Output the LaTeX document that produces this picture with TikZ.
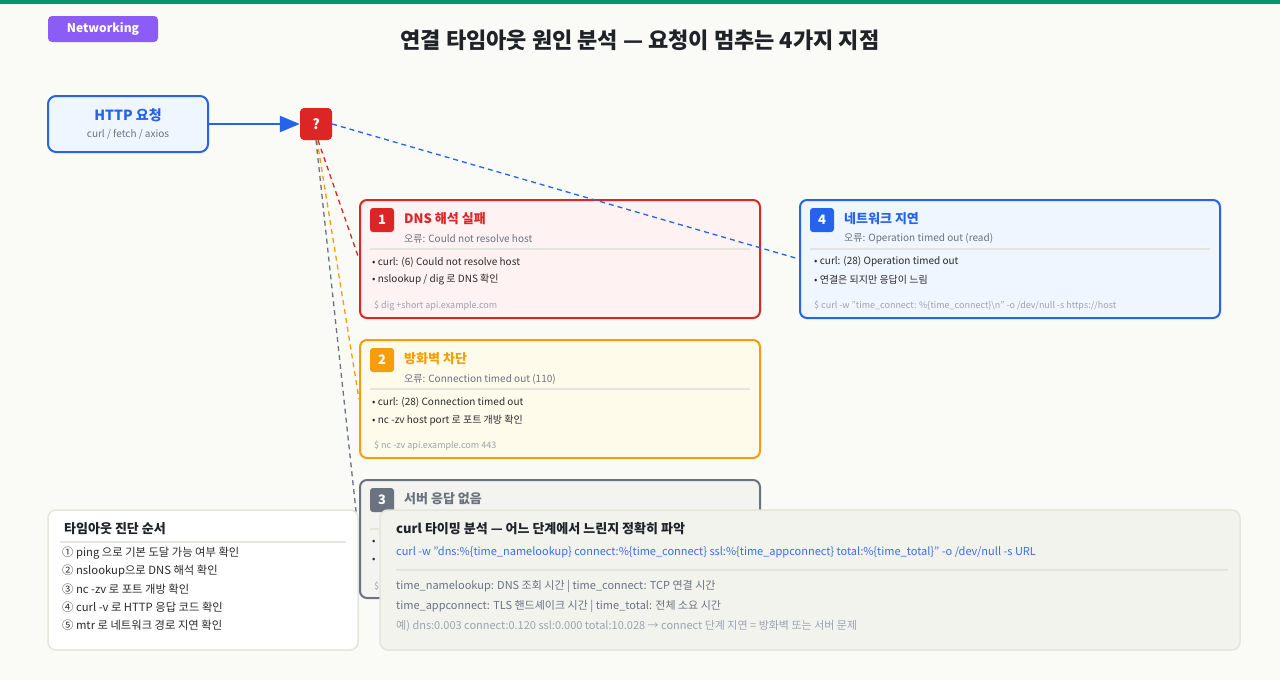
\documentclass[tikz,border=0pt]{standalone}
\usepackage{fontspec}
\setmainfont{Noto Sans CJK KR}
\usetikzlibrary{arrows.meta}
\definecolor{bgc}{HTML}{FAFAF7}
\definecolor{topgreen}{HTML}{079669}
\definecolor{purp}{HTML}{8B5CF6}
\definecolor{cblue}{HTML}{2563EB}
\definecolor{cbluefill}{HTML}{EFF6FF}
\definecolor{cred}{HTML}{DC2626}
\definecolor{credfill}{HTML}{FEF2F2}
\definecolor{corange}{HTML}{F59E0B}
\definecolor{corangefill}{HTML}{FFFBEB}
\definecolor{cgrey}{HTML}{6B7280}
\definecolor{cgreyfill}{HTML}{F3F4EF}
\definecolor{panelfill}{HTML}{F3F3EE}
\definecolor{panelline}{HTML}{E5E5DC}
\definecolor{sepc}{HTML}{E5E5E0}
\definecolor{darktxt}{HTML}{1F2328}
\definecolor{bodytxt}{HTML}{2B2B2B}
\definecolor{subtxt}{HTML}{6B7280}
\definecolor{codetxt}{HTML}{9CA3AF}
\definecolor{codeblue}{HTML}{3A6EE8}
\newcommand\fsz[1]{\fontsize{#1}{#1}\selectfont}
\pgfdeclarelayer{bottom}
\pgfsetlayers{bottom,main}
\tikzset{
  txt/.style={inner sep=0pt, anchor=west},
  card/.style={rounded corners=7pt, line width=2pt, minimum width=400pt, minimum height=118pt, inner sep=0pt},
  numbadge/.style={rounded corners=3pt, minimum width=24pt, minimum height=24pt, inner sep=0pt, text=white, font=\fsz{13}\bfseries},
  cardtitle/.style={txt, font=\fsz{13}\bfseries},
  cardsub/.style={txt, font=\fsz{10}, text=subtxt},
  bullet/.style={txt, font=\fsz{10}, text=bodytxt},
  codeline/.style={txt, font=\fsz{9}, text=codetxt},
  sepline/.style={draw=sepc, line width=1.5pt},
  conn/.style={line width=1.3pt, dash pattern=on 5pt off 4pt},
  lpitem/.style={txt, font=\fsz{11.3}, text=bodytxt},
}
\begin{document}
\begin{tikzpicture}[x=1pt,y=-1pt]
\begin{pgfonlayer}{bottom}
\fill[bgc] (0,0) rectangle (1280,680);
\fill[topgreen] (0,0) rectangle (1280,4);
\end{pgfonlayer}
\useasboundingbox (0,0) rectangle (1280,680);

% badge and title
\node[fill=purp, rounded corners=4pt, minimum width=110pt, minimum height=26pt, inner sep=0pt, text=white, font=\fsz{12}\bfseries] (net) at (103,29) {Networking};
\node[inner sep=0pt, text=darktxt, font=\fsz{22}\bfseries] (title) at (640,40) {연결 타임아웃 원인 분석 — 요청이 멈추는 4가지 지점};

% HTTP request
\node[draw=cblue, fill=cbluefill, line width=2pt, rounded corners=8pt, minimum width=160pt, minimum height=56pt, inner sep=0pt] (http) at (128,124) {};
\node[inner sep=0pt, text=cblue, font=\fsz{14}\bfseries] (httpt) at (128,115) {HTTP 요청};
\node[inner sep=0pt, text=subtxt, font=\fsz{10}] (https) at (128,134) {curl / fetch / axios};

% question box
\node[fill=cred, rounded corners=4pt, minimum width=32pt, minimum height=32pt, inner sep=0pt, text=white, font=\fsz{14}\bfseries] (q) at (316,124) {?};

\draw[cblue, line width=2.5pt, -{Triangle[length=20pt,width=16pt]}] (http.east) -- (q.west);

% cards
\node[card, draw=cred, fill=credfill] (c1) at (560,259) {};
\node[card, draw=corange, fill=corangefill] (c2) at (560,399) {};
\node[card, draw=cgrey, fill=cgreyfill] (c3) at (560,539) {};
\node[card, draw=cblue, fill=cbluefill, minimum width=420pt] (c4) at (1010,259) {};

% connectors
\draw[conn, cblue] (q.east) -- (c4.west);
\draw[conn, cred] ([xshift=2pt]q.south) -- (c1.west);
\draw[conn, corange] ([xshift=1pt]q.south) -- (c2.west);
\draw[conn, cgrey] (q.south) -- (c3.west);

% card 1
\node[numbadge, fill=cred] (b1) at (382,220) {1};
\node[cardtitle, text=cred] (t1) at (404,219) {DNS 해석 실패};
\node[cardsub] (s1) at (404,239) {오류: Could not resolve host};
\draw[sepline] (370,249) -- (750,249);
\node[bullet] (l1a) at (372,262) {• curl: (6) Could not resolve host};
\node[bullet] (l1b) at (372,280) {• nslookup / dig 로 DNS 확인};
\node[codeline] (k1) at (374,306) {\$ dig +short api.example.com};

% card 2
\node[numbadge, fill=corange] (b2) at (382,360) {2};
\node[cardtitle, text=corange] (t2) at (404,359) {방화벽 차단};
\node[cardsub] (s2) at (404,379) {오류: Connection timed out (110)};
\draw[sepline] (370,389) -- (750,389);
\node[bullet] (l2a) at (372,402) {• curl: (28) Connection timed out};
\node[bullet] (l2b) at (372,420) {• nc -zv host port 로 포트 개방 확인};
\node[codeline] (k2) at (374,446) {\$ nc -zv api.example.com 443};

% card 3
\node[numbadge, fill=cgrey] (b3) at (382,500) {3};
\node[cardtitle, text=cgrey] (t3) at (404,499) {서버 응답 없음};
\draw[sepline] (370,529) -- (750,529);
\node[bullet] (l3a) at (372,542) {•};
\node[bullet] (l3b) at (372,560) {•};
\node[codeline] (k3) at (374,586) {\$};

% card 4
\node[numbadge, fill=cblue] (b4) at (822,220) {4};
\node[cardtitle, text=cblue] (t4) at (844,219) {네트워크 지연};
\node[cardsub] (s4) at (844,239) {오류: Operation timed out (read)};
\draw[sepline] (810,249) -- (1210,249);
\node[bullet] (l4a) at (814,262) {• curl: (28) Operation timed out};
\node[bullet] (l4b) at (814,280) {• 연결은 되지만 응답이 느림};
\node[codeline] (k4) at (814,306) {\$ curl -w "time\_connect: \%\{time\_connect\}\textbackslash n" -o /dev/null -s https://host};

% left panel
\node[draw=panelline, fill=white, line width=1.5pt, rounded corners=8pt, minimum width=310pt, minimum height=140pt, inner sep=0pt] (lp) at (203,580) {};
\node[txt, font=\fsz{13}\bfseries, text=darktxt] (lpt) at (64,529) {타임아웃 진단 순서};
\draw[draw=sepc, line width=2pt] (60,542) -- (346,542);
\node[lpitem] (lp1) at (62,553) {① ping 으로 기본 도달 가능 여부 확인};
\node[lpitem] (lp2) at (62,571) {② nslookup으로 DNS 해석 확인};
\node[lpitem] (lp3) at (62,589) {③ nc -zv 로 포트 개방 확인};
\node[lpitem] (lp4) at (62,607) {④ curl -v 로 HTTP 응답 코드 확인};
\node[lpitem] (lp5) at (62,625) {⑤ mtr 로 네트워크 경로 지연 확인};

% bottom panel
\node[draw=panelline, fill=panelfill, line width=1.5pt, rounded corners=8pt, minimum width=860pt, minimum height=140pt, inner sep=0pt] (bp) at (810,580) {};
\node[txt, font=\fsz{13}\bfseries, text=darktxt] (bpt) at (396,529) {curl 타이밍 분석 — 어느 단계에서 느린지 정확히 파악};
\node[txt, font=\fsz{11}, text=codeblue] (bpc) at (396,552) {curl -w "dns:\%\{time\_namelookup\} connect:\%\{time\_connect\} ssl:\%\{time\_appconnect\} total:\%\{time\_total\}" -o /dev/null -s URL};
\draw[draw=sepc, line width=1.5pt] (396,570) -- (1228,570);
\node[txt, font=\fsz{11}, text=subtxt] (bp1) at (396,586) {time\_namelookup: DNS 조회 시간 | time\_connect: TCP 연결 시간};
\node[txt, font=\fsz{11}, text=subtxt] (bp2) at (396,606) {time\_appconnect: TLS 핸드셰이크 시간 | time\_total: 전체 소요 시간};
\node[txt, font=\fsz{11}, text=codetxt] (bp3) at (396,626) {예) dns:0.003 connect:0.120 ssl:0.000 total:10.028 → connect 단계 지연 = 방화벽 또는 서버 문제};
\end{tikzpicture}
\end{document}
